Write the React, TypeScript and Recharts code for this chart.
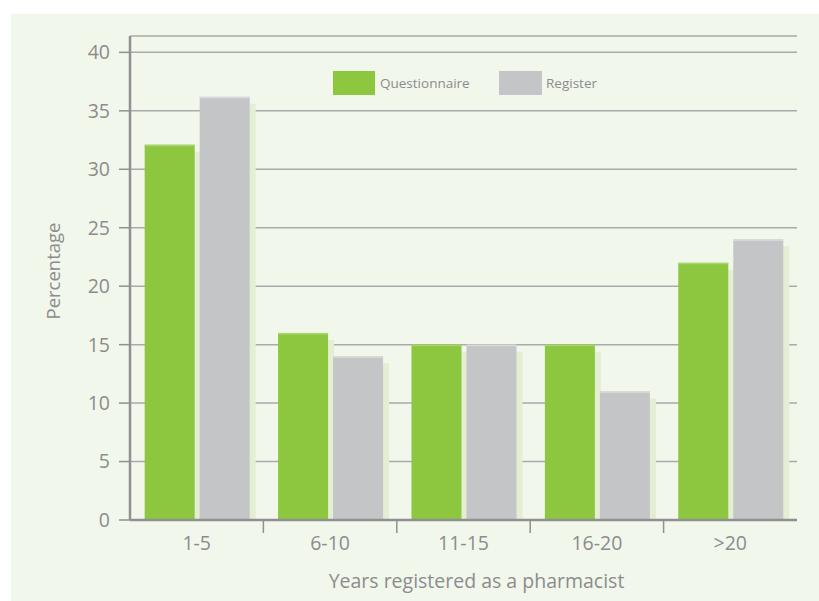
import {
  BarChart,
  Bar,
  XAxis,
  YAxis,
  CartesianGrid,
  Label,
} from "recharts";

const categories = ["1-5", "6-10", "11-15", "16-20", ">20"];
const questionnaire = [32.1, 16, 15, 15, 22];
const register = [36.2, 14, 15, 11, 24];
const yTicks = [0, 5, 10, 15, 20, 25, 30, 35, 40];

const data = categories.map((name, i) => ({
  name,
  questionnaire: questionnaire[i],
  register: register[i],
}));

const GREEN = "#8dc63f";
const GREEN_EDGE = "#a9d56f";
const GREY = "#c4c5c7";
const GREY_EDGE = "#d9dadb";
const SHADOW = "#e4eed2";
const PANEL = "#f2f7ec";
const TEXT = "#8c8c8c";
const AXIS = "#909090";
const FONT = "'Open Sans', 'Noto Sans', sans-serif";

const W = 819;
const H = 601;
const PLOT_LEFT = 130;
const PLOT_RIGHT = 797;
const BAND = (PLOT_RIGHT - PLOT_LEFT) / categories.length;

// bar with a soft green drop shadow to the lower right and a light top edge
const ShadowBar = (props: any) => {
  const { x, y, width, height, fill, edge } = props;
  if (!height || height <= 0) return null;
  return (
    <g>
      <rect x={x + 6} y={y + 7} width={width} height={height - 7} fill={SHADOW} />
      <rect x={x} y={y} width={width} height={height} fill={fill} />
      <rect x={x} y={y} width={width} height={1.5} fill={edge} />
    </g>
  );
};

// category label centred in the band, tick mark on the band's left edge
const CategoryTick = (props: any) => {
  const { x, y, payload, index } = props;
  return (
    <g>
      {index > 0 && (
        <line
          x1={x - BAND / 2}
          x2={x - BAND / 2}
          y1={y - 8}
          y2={y + 5}
          stroke={AXIS}
          strokeWidth={1.5}
        />
      )}
      <text
        x={x}
        y={y + 22}
        textAnchor="middle"
        fill={TEXT}
        fontSize={19.5}
        fontFamily={FONT}
      >
        {payload.value}
      </text>
    </g>
  );
};

const YTitle = () => (
  <text
    x={0}
    y={0}
    transform="translate(60 271) rotate(-90)"
    textAnchor="middle"
    fill={TEXT}
    fontSize={18.5}
    fontFamily={FONT}
  >
    Percentage
  </text>
);

const LegendBox = () => (
  <div
    style={{
      position: "absolute",
      left: 333,
      top: 71,
      display: "flex",
      alignItems: "center",
      fontFamily: FONT,
    }}
  >
    <div style={{ width: 42, height: 24, background: GREEN }} />
    <span style={{ marginLeft: 5, fontSize: 13.5, color: TEXT, width: 119 }}>
      Questionnaire
    </span>
    <div style={{ width: 43, height: 24, background: GREY }} />
    <span style={{ marginLeft: 4, fontSize: 13.5, color: TEXT }}>Register</span>
  </div>
);

export default function App() {
  return (
    <div style={{ position: "absolute", left: 0, top: 0, width: W, height: H, background: "#fff" }}>
      <div
        style={{
          position: "absolute",
          left: 11,
          top: 14,
          width: W - 11,
          height: H - 14,
          background: PANEL,
        }}
      />
      <div style={{ position: "absolute", left: 0, top: 0 }}>
        <BarChart
          width={W}
          height={H}
          data={data}
          margin={{ top: 36, right: W - PLOT_RIGHT, bottom: 21, left: PLOT_LEFT - 70 }}
          barCategoryGap="11%"
          barGap={5}
        >
          <CartesianGrid vertical={false} stroke="#aaaaaa" strokeWidth={1.5} />
          <XAxis
            dataKey="name"
            height={60}
            axisLine={{ stroke: AXIS, strokeWidth: 2.5 }}
            tickLine={false}
            tick={<CategoryTick />}
            interval={0}
          >
            <Label
              value="Years registered as a pharmacist"
              position="insideBottom"
              offset={-8}
              dx={13}
              fill={TEXT}
              fontSize={19.5}
              fontFamily={FONT}
            />
          </XAxis>
          <YAxis
            width={70}
            domain={[0, 41.4]}
            ticks={yTicks}
            interval={0}
            axisLine={{ stroke: AXIS, strokeWidth: 2.5 }}
            tickLine={{ stroke: AXIS, strokeWidth: 1.5 }}
            tickSize={11}
            tickMargin={9}
            tick={{ fill: TEXT, fontSize: 19.5, fontFamily: FONT }}
          >
            <Label content={<YTitle />} />
          </YAxis>
          <Bar
            dataKey="questionnaire"
            name="Questionnaire"
            fill={GREEN}
            shape={<ShadowBar edge={GREEN_EDGE} />}
            isAnimationActive={false}
          />
          <Bar
            dataKey="register"
            name="Register"
            fill={GREY}
            shape={<ShadowBar edge={GREY_EDGE} />}
            isAnimationActive={false}
          />
        </BarChart>
      </div>
      <LegendBox />
    </div>
  );
}
